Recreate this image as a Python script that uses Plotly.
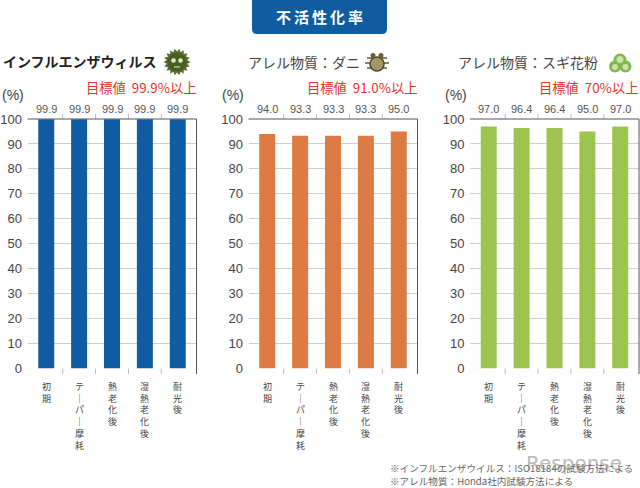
import math
import plotly.graph_objects as go

categories = ["初期", "テーパー摩耗", "熱老化後", "湿熱老化後", "耐光後"]
flu_values = [99.9, 99.9, 99.9, 99.9, 99.9]
mite_values = [94.0, 93.3, 93.3, 93.3, 95.0]
cedar_values = [97.0, 96.4, 96.4, 95.0, 97.0]
flu_labels = ["99.9", "99.9", "99.9", "99.9", "99.9"]
mite_labels = ["94.0", "93.3", "93.3", "93.3", "95.0"]
cedar_labels = ["97.0", "96.4", "96.4", "95.0", "97.0"]
y_ticks = [0, 10, 20, 30, 40, 50, 60, 70, 80, 90, 100]
colors = ["#0F5CA0", "#DD7B42", "#9CC44E"]
panel_titles = ["インフルエンザウィルス", "アレル物質：ダニ", "アレル物質：スギ花粉"]
targets = ["目標値\u00a0\u00a099.9%以上", "目標値\u00a0\u00a091.0%以上", "目標値\u00a0\u00a070%以上"]
FONT = "Noto Sans CJK JP"
W, H = 640, 488
panels = [(27.5, 196.5), (248.5, 417.5), (470, 639)]
top, bottom = 119, 368.5


def py(y):
    return 1 - y / H


def px(x):
    return x / W


fig = go.Figure()
data = [(flu_values, flu_labels), (mite_values, mite_labels), (cedar_values, cedar_labels)]
for i, (vals, labs) in enumerate(data):
    n = "" if i == 0 else str(i + 1)
    x0, x1 = panels[i]
    fig.add_trace(go.Bar(x=list(range(5)), y=vals, xaxis=f"x{n}", yaxis=f"y{n}",
                         marker=dict(color=colors[i], line=dict(width=0)),
                         width=0.486, showlegend=False, hoverinfo="skip"))
    fig.layout[f"xaxis{n}"] = dict(domain=[px(x0), px(x1)], anchor=f"y{n}", tickmode="array",
                                   tickvals=[], range=[-0.57, 4.57], showgrid=False, automargin=False,
                                   showline=False, zeroline=False, ticks="", fixedrange=True)
    fig.layout[f"yaxis{n}"] = dict(domain=[py(bottom), py(top)], anchor=f"x{n}", range=[0, 100],
                                   tickmode="array", tickvals=y_ticks, automargin=False,
                                   ticktext=[str(v) for v in y_ticks],
                                   tickfont=dict(family="Liberation Sans", size=13, color="#444444"),
                                   showgrid=True, gridcolor="#CFCFCF", gridwidth=1.3, zeroline=False,
                                   showline=False, ticks="outside", ticklen=2, tickcolor="rgba(0,0,0,0)",
                                   fixedrange=True)
    for j in range(5):
        fig.add_annotation(x=j, y=py(109), xref=f"x{n}", yref="paper", yanchor="middle",
                           text=labs[j], showarrow=False,
                           font=dict(family="Liberation Sans", size=11, color="#555555"))
        vertical = "<br>".join(categories[j].replace("ー", "｜"))
        fig.add_annotation(x=j, y=py(378), xref=f"x{n}", yref="paper", yanchor="top", xanchor="center",
                           text=vertical, showarrow=False, align="center",
                           font=dict(family=FONT, size=9, color="#444444"))
        if j < 4:
            fig.add_shape(type="line", x0=j + 0.5, x1=j + 0.5, xref=f"x{n}", yref="paper",
                          y0=py(368.5), y1=py(374), line=dict(color="#BDBDBD", width=1))
            fig.add_shape(type="line", x0=j + 0.5, x1=j + 0.5, xref=f"x{n}", yref="paper",
                          y0=py(114), y1=py(top), line=dict(color="#BDBDBD", width=1))
    fig.add_shape(type="line", xref="paper", yref="paper", x0=px(x0), x1=px(x1),
                  y0=py(top), y1=py(top), line=dict(color="#555555", width=1))
    fig.add_shape(type="line", xref="paper", yref="paper", x0=px(x1), x1=px(x1),
                  y0=py(374), y1=py(top), line=dict(color="#555555", width=1))


def txt(x, y, s, size, color, anchor="left", family=FONT, opacity=1):
    fig.add_annotation(x=px(x), y=py(y), xref="paper", yref="paper", text=s, showarrow=False,
                       xanchor=anchor, yanchor="middle", opacity=opacity,
                       font=dict(family=family, size=size, color=color))


def circle(cx, cy, r, color, line=None, lw=1):
    fig.add_shape(type="circle", xref="paper", yref="paper", x0=px(cx - r), x1=px(cx + r),
                  y0=py(cy + r), y1=py(cy - r), fillcolor=color,
                  line=dict(width=lw if line else 0, color=line or color))


txt(1, 61, "<b>" + panel_titles[0] + "</b>", 14, "#222222")
txt(246, 62, panel_titles[1], 14, "#444444")
txt(456, 62, panel_titles[2], 14, "#444444")
txt(199, 88, targets[0], 13.3, "#E8322A", "right")
txt(420, 88, targets[1], 13.3, "#E8322A", "right")
txt(639.5, 88, targets[2], 13.3, "#E8322A", "right")
for x in (0, 220, 443):
    txt(x, 95, "(%)", 14, "#444444", family="Liberation Sans")
txt(388, 468, "※インフルエンザウイルス：ISO18184の試験方法による", 9.6, "#666666")
txt(388, 480.5, "※アレル物質：Honda社内試験方法による", 9.6, "#666666")

# watermark
txt(524, 463, "Response", 20, "#777777", family="DejaVu Sans", opacity=0.5)

# title badge with rounded corners
a, b, c, d, r = 252, 387, 0, 34, 5
fig.add_shape(type="path", xref="paper", yref="paper", fillcolor="#0F5CA0", line=dict(width=0),
              path=(f"M {px(a)} {py(c)} L {px(b)} {py(c)} L {px(b)} {py(d - r)} "
                    f"Q {px(b)} {py(d)} {px(b - r)} {py(d)} L {px(a + r)} {py(d)} "
                    f"Q {px(a)} {py(d)} {px(a)} {py(d - r)} Z"))
txt(319.5, 16.5, "<b>不\u2009活\u2009性\u2009化\u2009率</b>", 15, "#FFFFFF", "center")

# virus icon
pts = []
for k in range(36):
    rad = 13.5 if k % 2 == 0 else 10.5
    ang = math.pi * k / 18
    pts.append((177 + rad * math.cos(ang), 62 + rad * math.sin(ang)))
fig.add_shape(type="path", xref="paper", yref="paper", fillcolor="#5A7030", line=dict(width=0),
              path="M " + " L ".join(f"{px(p)} {py(q)}" for p, q in pts) + " Z")
circle(177, 62, 9.5, "#4A5E22")
circle(173.5, 60.5, 2.3, "#E4EAD0")
circle(180.5, 60.5, 2.3, "#E4EAD0")
fig.add_shape(type="line", xref="paper", yref="paper", x0=px(174), x1=px(180),
              y0=py(67), y1=py(67), line=dict(color="#E4EAD0", width=1))

# mite icon
for yy, dx in ((58, 1), (63, 3), (68, 1)):
    fig.add_shape(type="line", xref="paper", yref="paper", x0=px(368 - dx), x1=px(386 + dx),
                  y0=py(yy), y1=py(yy), line=dict(color="#4A4020", width=1.3))
circle(377, 64, 7, "#A09868", "#4F4722", 1.5)
circle(373, 55.5, 2.5, "#6B6030")
circle(381, 55.5, 2.5, "#6B6030")

# cedar pollen icon
circle(620, 60, 6.5, "#7FB84E")
circle(615, 66.5, 6, "#7FB84E")
circle(625.5, 66.5, 6, "#7FB84E")
circle(620, 59.5, 3.5, "#CFE0A8")
circle(615, 67, 3, "#CFE0A8")
circle(625.5, 67, 3, "#CFE0A8")

fig.update_layout(width=W, height=H, margin=dict(l=0, r=0, t=0, b=0, pad=0), autosize=False,
                  paper_bgcolor="white", plot_bgcolor="white", font=dict(family=FONT))
fig.write_html("out.html", config=dict(displayModeBar=False),
               post_script="document.body.style.margin='0';")
